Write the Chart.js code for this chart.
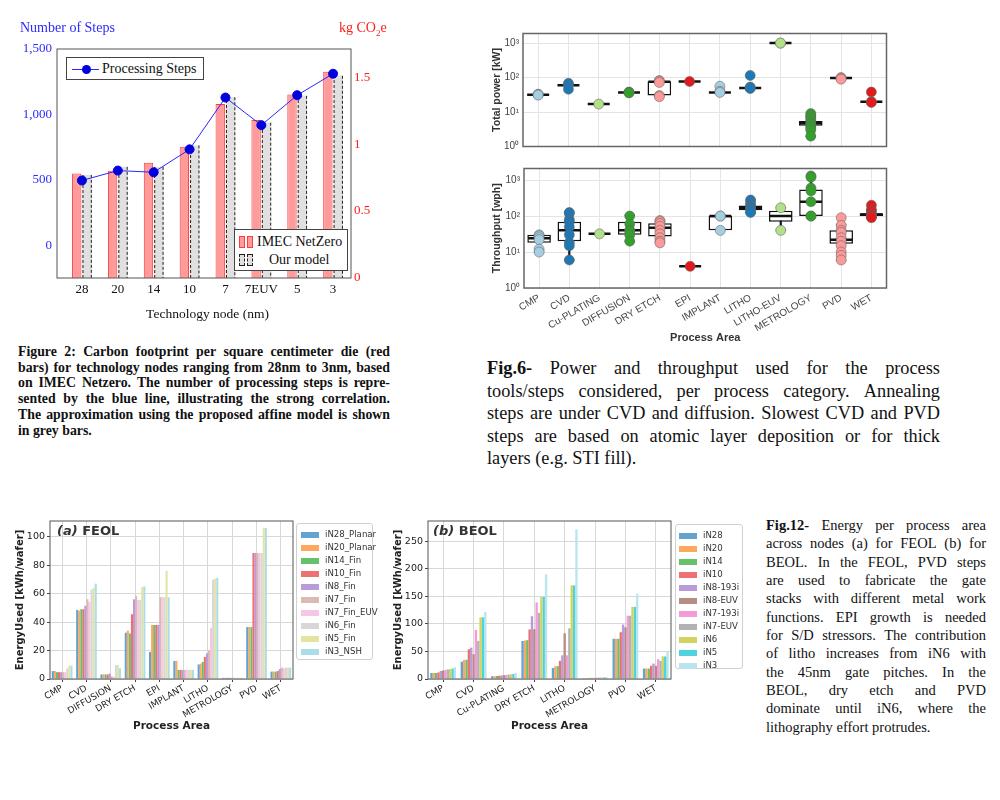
<!DOCTYPE html>
<html><head><meta charset="utf-8">
<script src="https://cdn.jsdelivr.net/npm/chart.js@4.4.0/dist/chart.umd.min.js"></script>
<style>
html,body{margin:0;padding:0;background:#fff;}
#page{position:relative;width:1000px;height:800px;overflow:hidden;background:#fff;}
canvas{position:absolute;}
.t{position:absolute;white-space:nowrap;line-height:1;}
.cap{position:absolute;color:#111;}
.cap .ln{white-space:nowrap;}
.lg{position:absolute;border:1px solid #d0d0d0;border-radius:3px;background:rgba(255,255,255,0.9);box-sizing:border-box;}
.lg .row{position:absolute;left:0;height:13px;font-family:'DejaVu Sans',sans-serif;font-size:8.6px;color:#333;line-height:13px;white-space:nowrap;}
.lg .sw{position:absolute;top:3.5px;width:18px;height:6px;}
</style>
</head><body><div id="page">
<canvas id="c1" width="400" height="330" style="left:0;top:0;width:400px;height:330px"></canvas>
<canvas id="c2" width="420" height="140" style="left:480px;top:20px;width:420px;height:140px"></canvas>
<canvas id="c3" width="420" height="200" style="left:480px;top:155px;width:420px;height:200px"></canvas>
<canvas id="c4" width="295" height="235" style="left:0;top:505px;width:295px;height:235px"></canvas>
<canvas id="c5" width="293" height="235" style="left:380px;top:505px;width:293px;height:235px"></canvas>

<div class="t" style="left:20px;top:21px;font-family:'Liberation Serif',serif;font-size:14px;color:#2a2aff">Number of Steps</div>
<div class="t" style="left:339px;top:21px;font-family:'Liberation Serif',serif;font-size:14px;color:#ff1a1a">kg CO<sub style="font-size:9px">2</sub>e</div>

<div class="lg" style="left:66px;top:57px;width:138px;height:23px;border:1px solid #444;border-radius:0;background:#fff">
  <div style="position:absolute;left:5px;top:10.5px;width:27px;height:1px;background:#2828ff"></div>
  <div style="position:absolute;left:14.5px;top:6.5px;width:9px;height:9px;border-radius:50%;background:#0000dd"></div>
  <div class="t" style="left:35px;top:4px;font-family:'Liberation Serif',serif;font-size:14px;color:#111">Processing Steps</div>
</div>
<div class="lg" style="left:234px;top:229px;width:114px;height:42px;border:1px solid #444;border-radius:0;background:#fff">
  <div style="position:absolute;left:4px;top:6px;width:4px;height:10px;background:#ff9b9b;border:1px solid #ff3b3b"></div>
  <div style="position:absolute;left:12px;top:6px;width:4px;height:10px;background:#ff9b9b;border:1px solid #ff3b3b"></div>
  <div class="t" style="left:22px;top:5px;font-family:'Liberation Serif',serif;font-size:14px;color:#111">IMEC NetZero</div>
  <div style="position:absolute;left:4px;top:24px;width:4px;height:10px;background:#e0e0e0;border:1px dashed #222"></div>
  <div style="position:absolute;left:12px;top:24px;width:4px;height:10px;background:#e0e0e0;border:1px dashed #222"></div>
  <div class="t" style="left:34px;top:23px;font-family:'Liberation Serif',serif;font-size:14px;color:#111">Our model</div>
</div>

<div class="t" style="left:57px;top:524px;font-family:'DejaVu Sans',sans-serif;font-size:13px;font-weight:bold;color:#333"><i>(a)</i> FEOL</div>
<div class="t" style="left:433px;top:524px;font-family:'DejaVu Sans',sans-serif;font-size:13px;font-weight:bold;color:#333"><i>(b)</i> BEOL</div>

<div id="lgFeol" class="lg" style="left:296px;top:523px;width:77px;height:137px"></div>
<div id="lgBeol" class="lg" style="left:675px;top:524px;width:68px;height:145px"></div>

<div id="cap2" class="cap" style="left:18px;top:344px;width:372px;font-family:'Liberation Serif',serif;font-size:13.8px;font-weight:bold;line-height:15.7px"></div>
<div id="cap6" class="cap" style="left:487px;top:357px;width:453px;font-family:'Liberation Serif',serif;font-size:18.3px;line-height:22.5px"></div>
<div id="cap12" class="cap" style="left:766px;top:516px;width:220px;font-family:'Liberation Serif',serif;font-size:14.5px;line-height:18.35px"></div>
</div>
<script>
// ---------- Figure 2 data ----------
const nodeLabels = ['28','20','14','10','7','7EUV','5','3'];
const processingSteps = [495, 571, 558, 733, 1129, 918, 1147, 1311];
const imecKgCO2 = [0.78, 0.80, 0.86, 0.98, 1.30, 1.18, 1.37, 1.54];
const modelKgCO2 = [0.77, 0.83, 0.83, 0.99, 1.35, 1.16, 1.36, 1.51];
const stepsTicks = [0, 500, 1000, 1500];
const co2Ticks = [0, 0.5, 1, 1.5];

// ---------- Fig.6 data ----------
const processAreas = ['CMP','CVD','Cu-PLATING','DIFFUSION','DRY ETCH','EPI','IMPLANT','LITHO','LITHO-EUV','METROLOGY','PVD','WET'];
const areaColors = ['#a6cee3','#1f78b4','#b2df8a','#33a02c','#fb9a99','#e31a1c','#a6cee3','#1f78b4','#b2df8a','#33a02c','#fb9a99','#e31a1c'];
const logTickValues = [1, 10, 100, 1000];
const logTickLabels = ['10\u2070','10\u00b9','10\u00b2','10\u00b3'];

const powerMin = [32, 60, 17, 37, 30, 77, 37, 50, 1000, 2, 97, 20];
const powerQ1  = [32, 60, 17, 37, 30, 77, 37, 50, 1000, 4, 97, 20];
const powerMed = [32, 60, 17, 37, 76, 77, 37, 50, 1000, 4.7, 97, 20];
const powerQ3  = [32, 60, 17, 37, 78, 77, 37, 50, 1000, 5.5, 97, 20];
const powerMax = [32, 60, 17, 37, 78, 77, 37, 50, 1000, 7, 97, 20];
const powerPoints = [
  [33, 32, 31], [68, 62, 46], [17], [38, 37, 36], [82, 78, 72, 30, 28], [77],
  [56, 40, 37], [115, 53, 50, 48], [1000, 1000], [9, 8, 7, 6, 5, 4.5, 4, 3.5, 3, 2],
  [100, 95, 90], [38, 20, 19]
];

const tpMin = [10, 6, 32, 20, 18, 4, 40, 120, 40, 100, 6, 90];
const tpQ1  = [18, 20, 32, 30, 27, 4, 40, 145, 70, 100, 17, 100];
const tpMed = [24, 40, 32, 40, 47, 4, 100, 170, 100, 250, 22, 110];
const tpQ3  = [30, 70, 32, 70, 63, 4, 100, 196, 140, 550, 40, 120];
const tpMax = [30, 130, 32, 105, 75, 4, 100, 280, 170, 1300, 57, 150];
const tpPoints = [
  [30, 28, 25, 22, 12, 10], [125, 120, 80, 70, 50, 30, 18, 15, 6], [32],
  [100, 60, 40, 38, 30, 20], [75, 70, 62, 52, 40, 32, 25, 20, 18], [4],
  [100, 100, 40], [280, 230, 200, 175, 160, 140, 125], [170, 40],
  [1300, 1200, 600, 500, 250, 100, 100], [90, 55, 40, 35, 25, 20, 15, 10, 8, 6],
  [200, 150, 130, 110, 105, 95, 90]
];

// ---------- Fig.12 data ----------
const feolAreas = ['CMP','CVD','DIFFUSION','DRY ETCH','EPI','IMPLANT','LITHO','METROLOGY','PVD','WET'];
const feolNodes = ['iN28_Planar','iN20_Planar','iN14_Fin','iN10_Fin','iN8_Fin','iN7_Fin','iN7_Fin_EUV','iN6_Fin','iN5_Fin','iN3_NSH'];
const feolColors = ['#62a3d0','#ffa75c','#66c16e','#ef7072','#b99bd9','#dcbab2','#f8c6e5','#d7d7d7','#e3e4a2','#aadde7'];
const feolTicks = [0, 20, 40, 60, 80, 100];
const feolIN28 = [5.6, 48.5, 3.2, 32.5, 19, 12.7, 10.2, 0.8, 36.5, 5.2];
const feolIN20 = [5.6, 48, 3.2, 34, 38, 12.7, 10.8, 0.8, 36.5, 5.2];
const feolIN14 = [4.8, 49, 3.2, 32, 38, 6.4, 12, 0.8, 36.5, 5.2];
const feolIN10 = [4.8, 49, 3.2, 45.5, 38, 6.4, 15.5, 0.8, 88.5, 5.6];
const feolIN8 = [4.8, 51.5, 3.8, 56, 38, 6.4, 18, 0.8, 88.5, 7];
const feolIN7 = [4.8, 56, 2, 58.5, 57.5, 6.4, 20, 0.8, 88.5, 8];
const feolIN7EUV = [4.8, 54, 1.5, 55.5, 57.5, 6.4, 36, 0.8, 88.5, 7.5];
const feolIN6 = [7.5, 63, 9.8, 55.5, 57.5, 6.4, 69.8, 0.8, 88.5, 8];
const feolIN5 = [9.4, 64, 9.8, 64.5, 76, 6.4, 70.5, 0.8, 106, 8];
const feolIN3 = [9.4, 67, 7.5, 65, 57.5, 6.4, 71, 0.8, 106, 8];

const beolAreas = ['CMP','CVD','Cu-PLATING','DRY ETCH','LITHO','METROLOGY','PVD','WET'];
const beolNodes = ['iN28','iN20','iN14','iN10','iN8-193i','iN8-EUV','iN7-193i','iN7-EUV','iN6','iN5','iN3'];
const beolColors = ['#62a3d0','#ffa75c','#66c16e','#ef7072','#b99bd9','#b98c83','#f29bd6','#b2b2b2','#d3d45f','#4fd2de','#b9e6ee'];
const beolTicks = [0, 50, 100, 150, 200, 250];
const beolIN28 = [11, 31.5, 5, 69, 20, 1.5, 73, 19];
const beolIN20 = [11, 34.5, 5, 70, 23, 1.5, 73, 19];
const beolIN14 = [11, 35, 5.5, 70.5, 23.5, 1.5, 73, 19];
const beolIN10 = [12, 54, 6, 90, 33, 2, 85, 24];
const beolIN8193 = [14.5, 57, 6.5, 114, 43, 2, 99, 28];
const beolIN8EUV = [15.5, 45, 7, 90.5, 83, 2, 94, 24];
const beolIN7193 = [16.3, 89, 7.5, 139, 43, 2.5, 115, 36];
const beolIN7EUV = [17.5, 69, 8, 120, 92, 2.5, 115, 33];
const beolIN6 = [18, 112, 8.5, 149, 170, 2.5, 131, 41];
const beolIN5 = [19, 112, 9, 149, 170, 3, 131, 41];
const beolIN3 = [21.5, 122, 11, 190, 272, 3, 155, 50];

// ---------- helpers ----------
const SERIF = "'Liberation Serif', serif";
const SANS = "'Liberation Sans', Arial, sans-serif";
const DVS = "'DejaVu Sans', sans-serif";

const framePlugin = {
  id: 'frame',
  afterDraw(chart, args, o) {
    if (!o || !o.color) return;
    const {ctx, chartArea: a} = chart;
    const ex = o.extendLeft || 0;
    ctx.save();
    ctx.strokeStyle = o.color; ctx.lineWidth = o.width || 1;
    ctx.strokeRect(a.left - ex, a.top, a.right - a.left + ex, a.bottom - a.top);
    ctx.restore();
  }
};
const dashedBars = {
  id: 'dashedBars',
  afterDatasetDraw(chart, args, o) {
    if (!o || args.index !== o.datasetIndex) return;
    const ctx = chart.ctx;
    ctx.save(); ctx.strokeStyle = '#222'; ctx.lineWidth = 1; ctx.setLineDash([3, 2]);
    args.meta.data.forEach(el => {
      const p = el.getProps(['x', 'y', 'base', 'width'], true);
      const l = p.x - p.width / 2 + 0.5, r = p.x + p.width / 2 - 0.5;
      ctx.beginPath();
      ctx.moveTo(l, p.base); ctx.lineTo(l, p.y);
      ctx.moveTo(r, p.y); ctx.lineTo(r, p.base);
      ctx.stroke();
    });
    ctx.restore();
  }
};
const common = {responsive: false, animation: false, devicePixelRatio: 1, events: []};

// ---------- Figure 2 chart ----------
new Chart(document.getElementById('c1'), {
  data: {
    labels: nodeLabels,
    datasets: [
      {type: 'line', label: 'Processing Steps', data: processingSteps, yAxisID: 'y', borderColor: '#2828ff', borderWidth: 1,
       pointRadius: 4.5, pointBackgroundColor: '#0000dd', pointBorderColor: '#0000dd', order: 0},
      {type: 'bar', label: 'IMEC NetZero', data: imecKgCO2, yAxisID: 'y1', backgroundColor: '#ff9b9b', borderColor: '#ff3b3b',
       borderWidth: 1, borderSkipped: 'bottom', order: 1},
      {type: 'bar', label: 'Our model', data: modelKgCO2, yAxisID: 'y1', backgroundColor: '#e0e0e0', borderWidth: 0, order: 2}
    ]
  },
  options: Object.assign({}, common, {
    layout: {padding: {top: 49, left: 0, right: 0, bottom: 0}},
    datasets: {bar: {categoryPercentage: 0.58, barPercentage: 0.9}},
    plugins: {legend: {display: false}, tooltip: {enabled: false},
      frame: {color: '#555', width: 1, extendLeft: 7}, dashedBars: {datasetIndex: 2}},
    scales: {
      x: {grid: {display: false, drawTicks: false, tickLength: 0}, border: {display: false},
          ticks: {font: {family: SERIF, size: 13}, color: '#111', padding: 4, minRotation: 0, maxRotation: 0, autoSkip: false},
          title: {display: true, text: 'Technology node (nm)', font: {family: SERIF, size: 13.5}, color: '#111', padding: {top: 0, bottom: 7}},
          afterFit: s => { s.height = 52; }},
      y: {position: 'left', min: -250, max: 1500,
          afterBuildTicks: s => { s.ticks = stepsTicks.map(v => ({value: v})); },
          ticks: {callback: v => v.toLocaleString('en-US'), color: '#2a2aff', font: {family: SERIF, size: 13}, padding: 4},
          grid: {display: false}, border: {display: false},
          afterFit: s => { s.width = 64; }},
      y1: {position: 'right', min: 0, max: 1.71,
          afterBuildTicks: s => { s.ticks = co2Ticks.map(v => ({value: v})); },
          ticks: {callback: v => String(v), color: '#ff1a1a', font: {family: SERIF, size: 13}, padding: 3},
          grid: {display: false, drawTicks: false, tickLength: 0}, border: {display: false},
          afterFit: s => { s.width = 49; }}
    }
  }),
  plugins: [framePlugin, dashedBars]
});

// ---------- Fig.6 box plots ----------
function boxSets(mn, q1, md, q3, mx, pts) {
  const points = [];
  pts.forEach((arr, i) => arr.forEach(v => points.push({x: processAreas[i], y: v})));
  return [
    {type: 'line', data: points, showLine: false, pointRadius: 5,
     pointBackgroundColor: c => c.raw ? areaColors[processAreas.indexOf(c.raw.x)] : '#999',
     pointBorderColor: 'rgba(100,100,100,0.8)', pointBorderWidth: 0.7, order: 0},
    {type: 'line', data: md, showLine: false, pointStyle: 'line', pointRadius: 11,
     pointBorderWidth: 2.5, pointBorderColor: '#111', order: 1},
    {type: 'line', data: mn.map((v, i) => v < q1[i] ? v : null), showLine: false, pointStyle: 'line', pointRadius: 5,
     pointBorderWidth: 1.5, pointBorderColor: '#111', order: 2},
    {type: 'line', data: mx.map((v, i) => v > q3[i] ? v : null), showLine: false, pointStyle: 'line', pointRadius: 5,
     pointBorderWidth: 1.5, pointBorderColor: '#111', order: 2},
    {type: 'bar', data: q1.map((v, i) => v < q3[i] ? [v, q3[i]] : null), backgroundColor: '#fff', borderColor: '#111',
     borderWidth: 1.5, borderSkipped: false, grouped: false, barPercentage: 0.78, categoryPercentage: 1, order: 3},
    {type: 'bar', data: mn.map((v, i) => (v < q1[i] || mx[i] > q3[i]) ? [v, mx[i]] : null), backgroundColor: '#111',
     barThickness: 1.5, grouped: false, order: 4}
  ];
}
function boxChart(id, sets, yMax, title, showX, padTop, padRight, yW, xH, yTitlePad) {
  return new Chart(document.getElementById(id), {
    data: {labels: processAreas, datasets: sets},
    options: Object.assign({}, common, {
      layout: {padding: {top: padTop, right: padRight, left: 0, bottom: 0}},
      plugins: {legend: {display: false}, tooltip: {enabled: false}, frame: {color: '#666', width: 1.5}},
      scales: {
        x: {type: 'category', offset: true, border: {display: false},
            grid: {offset: false, color: '#e4e4e4', drawTicks: false},
            ticks: {display: showX, minRotation: 30, maxRotation: 30, autoSkip: false, padding: 4,
                    font: {family: SANS, size: 10}, color: '#444'},
            title: {display: showX, text: 'Process Area', font: {family: SANS, size: 11, weight: 'bold'}, color: '#333',
                    padding: {top: 0, bottom: 10.5}},
            afterFit: s => { s.height = xH; }},
        y: {type: 'logarithmic', min: 1, max: yMax, border: {display: false},
            afterBuildTicks: s => { s.ticks = logTickValues.map(v => ({value: v})); },
            ticks: {callback: v => logTickLabels[logTickValues.indexOf(v)], font: {family: SANS, size: 10}, color: '#444', padding: 4},
            grid: {color: '#e4e4e4', drawTicks: false},
            title: {display: true, text: title, font: {family: SANS, size: 10.5, weight: 'bold'}, color: '#333', padding: {top: yTitlePad, bottom: 0}},
            afterFit: s => { s.width = yW; }}
      }
    }),
    plugins: [framePlugin]
  });
}
boxChart('c2', boxSets(powerMin, powerQ1, powerMed, powerQ3, powerMax, powerPoints), 1900, 'Total power [kW]', false, 12, 3, 43, 5, 11);
boxChart('c3', boxSets(tpMin, tpQ1, tpMed, tpQ3, tpMax, tpPoints), 2100, 'Throughput [wph]', true, 8, 2, 44, 67, 10.5);

// ---------- Fig.12 grouped bars ----------
function energyChart(id, cats, names, colors, series, yMax, ticksArr, yW, padRight, yTitlePad) {
  return new Chart(document.getElementById(id), {
    type: 'bar',
    data: {labels: cats, datasets: series.map((d, i) => ({label: names[i], data: d, backgroundColor: colors[i], borderWidth: 0}))},
    options: Object.assign({}, common, {
      layout: {padding: {top: 16, right: padRight, left: 0, bottom: 0}},
      datasets: {bar: {categoryPercentage: 0.85, barPercentage: 1}},
      plugins: {legend: {display: false}, tooltip: {enabled: false}, frame: {color: '#555', width: 1}},
      scales: {
        x: {border: {display: false}, grid: {offset: false, color: '#d8d8d8', tickColor: '#444', tickLength: 3},
            ticks: {minRotation: 30, maxRotation: 30, autoSkip: false, padding: 1, font: {family: DVS, size: 9}, color: '#222'},
            title: {display: true, text: 'Process Area', font: {family: DVS, size: 10.5, weight: 'bold'}, color: '#222', padding: {top: 0, bottom: 7}},
            afterFit: s => { s.height = 61; }},
        y: {min: 0, max: yMax, border: {display: false},
            afterBuildTicks: s => { s.ticks = ticksArr.map(v => ({value: v})); },
            grid: {color: '#d8d8d8', tickColor: '#444', tickLength: 3},
            ticks: {font: {family: DVS, size: 9.5}, color: '#222', padding: 2},
            title: {display: true, text: 'EnergyUsed [kWh/wafer]', font: {family: DVS, size: 10, weight: 'bold'}, color: '#222', padding: {top: yTitlePad, bottom: 0}},
            afterFit: s => { s.width = yW; }}
      }
    }),
    plugins: [framePlugin]
  });
}
energyChart('c4', feolAreas, feolNodes, feolColors,
  [feolIN28, feolIN20, feolIN14, feolIN10, feolIN8, feolIN7, feolIN7EUV, feolIN6, feolIN5, feolIN3], 111, feolTicks, 50, 2, 14);
energyChart('c5', beolAreas, beolNodes, beolColors,
  [beolIN28, beolIN20, beolIN14, beolIN10, beolIN8193, beolIN8EUV, beolIN7193, beolIN7EUV, beolIN6, beolIN5, beolIN3], 287, beolTicks, 48, 2, 12);

// ---------- legends ----------
function legend(id, names, colors, swLeft, txtLeft) {
  const el = document.getElementById(id);
  names.forEach((n, i) => {
    const r = document.createElement('div');
    r.className = 'row'; r.style.top = (4 + i * 13) + 'px'; r.style.width = '100%';
    const sw = document.createElement('div'); sw.className = 'sw'; sw.style.left = swLeft + 'px'; sw.style.background = colors[i];
    const tx = document.createElement('span'); tx.style.position = 'absolute'; tx.style.left = txtLeft + 'px'; tx.textContent = n;
    r.appendChild(sw); r.appendChild(tx); el.appendChild(r);
  });
}
legend('lgFeol', feolNodes, feolColors, 4, 28);
legend('lgBeol', beolNodes, beolColors, 3, 27);

// ---------- captions ----------
function caption(id, lines, boldWord) {
  const el = document.getElementById(id);
  lines.forEach((line, i) => {
    const d = document.createElement('div'); d.className = 'ln';
    const words = line.split(' ');
    if (i < lines.length - 1) { d.style.display = 'flex'; d.style.justifyContent = 'space-between'; }
    words.forEach((w, j) => {
      const s = document.createElement('span');
      s.textContent = w;
      if (i === 0 && j === 0 && boldWord) s.style.fontWeight = 'bold';
      d.appendChild(s);
      if (i === lines.length - 1 && j < words.length - 1) d.appendChild(document.createTextNode(' '));
    });
    el.appendChild(d);
  });
}
caption('cap2', [
  'Figure 2: Carbon footprint per square centimeter die (red',
  'bars) for technology nodes ranging from 28nm to 3nm, based',
  'on IMEC Netzero. The number of processing steps is repre-',
  'sented by the blue line, illustrating the strong correlation.',
  'The approximation using the proposed affine model is shown',
  'in grey bars.'], false);
caption('cap6', [
  'Fig.6- Power and throughput used for the process',
  'tools/steps considered, per process category. Annealing',
  'steps are under CVD and diffusion. Slowest CVD and PVD',
  'steps are based on atomic layer deposition or for thick',
  'layers (e.g. STI fill).'], true);
caption('cap12', [
  'Fig.12- Energy per process area',
  'across nodes (a) for FEOL (b) for',
  'BEOL. In the FEOL, PVD steps',
  'are used to fabricate the gate',
  'stacks with different metal work',
  'functions. EPI growth is needed',
  'for S/D stressors. The contribution',
  'of litho increases from iN6 with',
  'the 45nm gate pitches. In the',
  'BEOL, dry etch and PVD',
  'dominate until iN6, where the',
  'lithography effort protrudes.'], true);
</script>
</body></html>
